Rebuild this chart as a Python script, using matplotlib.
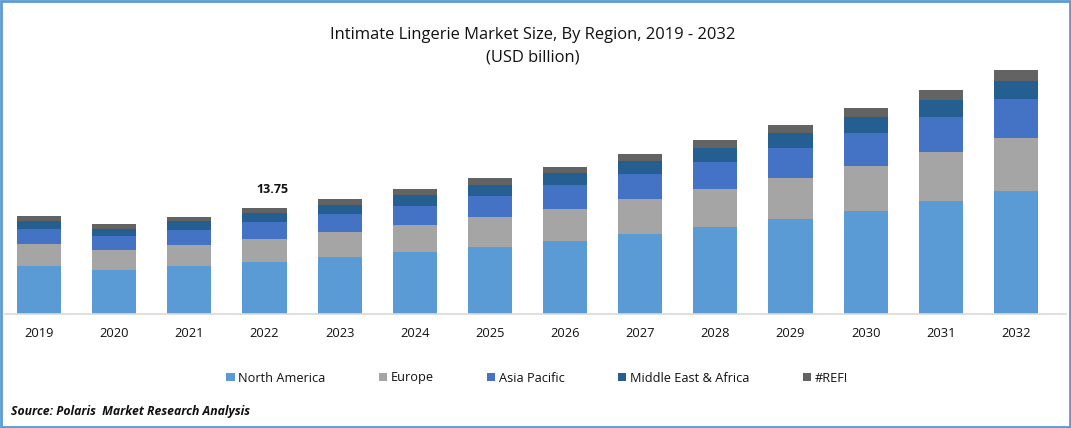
import numpy as np
import matplotlib
matplotlib.use('Agg')
import matplotlib.pyplot as plt
from matplotlib.patches import Rectangle

plt.rcParams['font.family'] = ['Open Sans', 'DejaVu Sans']

years = [2019, 2020, 2021, 2022, 2023, 2024, 2025, 2026, 2027, 2028, 2029, 2030, 2031, 2032]
north_america = [6.26, 5.75, 6.26, 6.78, 7.43, 8.04, 8.69, 9.47, 10.38, 11.28, 12.32, 13.36, 14.66, 15.95]
europe = [2.85, 2.59, 2.72, 2.98, 3.24, 3.50, 3.89, 4.15, 4.54, 4.93, 5.32, 5.84, 6.36, 6.87]
asia_pacific = [1.95, 1.82, 1.95, 2.20, 2.33, 2.46, 2.72, 3.11, 3.24, 3.50, 3.89, 4.28, 4.54, 5.06]
mea = [1.04, 0.91, 1.17, 1.17, 1.17, 1.43, 1.43, 1.56, 1.69, 1.82, 1.95, 2.08, 2.20, 2.33]
ref = [0.65, 0.65, 0.52, 0.62, 0.78, 0.78, 0.91, 0.78, 0.91, 1.04, 1.04, 1.17, 1.30, 1.43]

series = [north_america, europe, asia_pacific, mea, ref]
names = ['North America', 'Europe', 'Asia Pacific', 'Middle East & Africa', '#REF!']
colors = ['#5B9BD5', '#A5A5A5', '#4472C4', '#255E91', '#636363']

fig = plt.figure(figsize=(10.71, 4.28), dpi=100)
ax = fig.add_axes([5 / 1071, 1 - 314.3 / 428, 1061 / 1071, 254.3 / 428])

bottom = np.zeros(len(years))
for vals, name, c in zip(series, names, colors):
    ax.bar(years, vals, bottom=bottom, width=0.588, color=c, label=name)
    bottom += np.array(vals)

# only 2022 is labelled in the original, and it sits a bit right of the bar
ax.annotate('13.75', xy=(2022, bottom[3]), xytext=(5.8, 13.6), textcoords='offset points',
            ha='center', va='center', fontsize=9, fontweight='bold', color='#111111')

ax.set_xlim(2019 - 34 / 75.15, 2032 + 50 / 75.15)
ax.set_ylim(0, 33)
ax.set_xticks(years)
ax.set_xticklabels(years)
ax.set_yticks([])
ax.tick_params(axis='x', length=0, pad=9.5, labelsize=9.3, labelcolor='#111111')
for s in ['top', 'left', 'right']:
    ax.spines[s].set_visible(False)
ax.spines['bottom'].set_color('#D9D9D9')
ax.spines['bottom'].set_linewidth(1.2)

fig.text(533 / 1071, 1 - 35 / 428, 'Intimate Lingerie Market Size, By Region, 2019 - 2032',
         ha='center', va='center', fontsize=11.85, color='#111111')
fig.text(533 / 1071, 1 - 58 / 428, '(USD billion)', ha='center', va='center',
         fontsize=11.85, color='#111111')

fig.legend(loc='center', bbox_to_anchor=(537 / 1071, 1 - 378 / 428), ncol=5, frameon=False,
           fontsize=9.2, handlelength=0.65, handleheight=0.65, handletextpad=0.27,
           columnspacing=4.18, labelcolor='#111111')

fig.text(11 / 1071, 1 - 411 / 428, 'Source: Polaris  Market Research Analysis', ha='left',
         va='center', fontsize=8.8, fontweight='bold', fontstyle='italic', color='#111111')

fig.add_artist(Rectangle((1 / 1071, 1 / 428), 1069 / 1071, 426 / 428, transform=fig.transFigure,
                         fill=False, edgecolor='#5B9BD5', linewidth=2))

fig.savefig('out.png', dpi=100)
